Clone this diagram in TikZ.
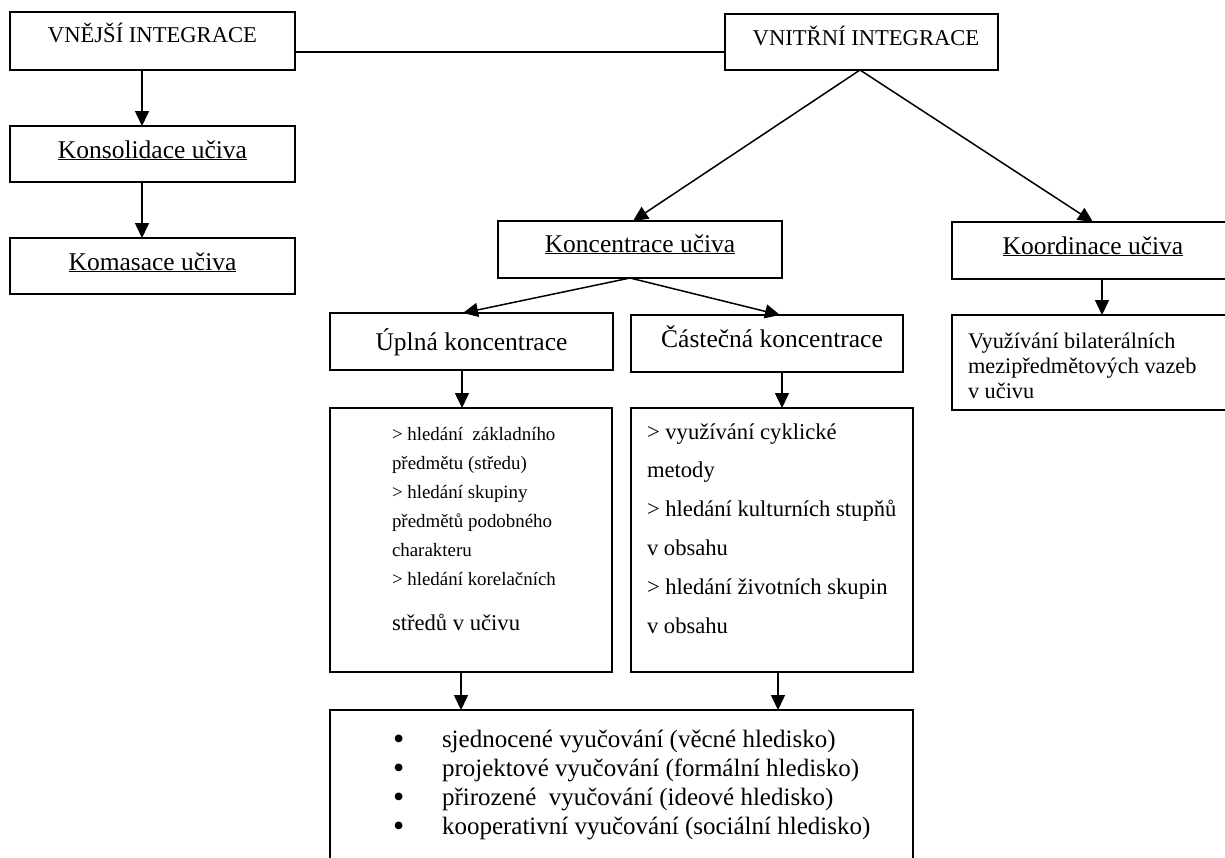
\documentclass[tikz,border=0pt]{standalone}
\usepackage{fontspec}
\setmainfont{Liberation Serif}
\usetikzlibrary{arrows.meta}
\tikzset{
  bx/.style={draw, line width=1.8pt, inner sep=0pt, outer sep=0pt},
  con/.style={line width=1.5pt},
  arr/.style={line width=1.5pt, -{Triangle[length=15pt,width=14pt]}},
  txt/.style={inner sep=0pt, outer sep=0pt},
  big/.style={font=\fontsize{25.5pt}{30pt}\selectfont},
  mid/.style={font=\fontsize{22.6pt}{27pt}\selectfont},
}
\newcommand\bulletitem{\makebox[49pt][l]{\raisebox{-2.6pt}{\fontsize{32pt}{29pt}\selectfont •}}}
\begin{document}
\begin{tikzpicture}[x=1pt,y=-1pt]
\useasboundingbox (0,0) rectangle (1225,857);
\fill[white] (0,0) rectangle (1225,857);
\clip (0,0) rectangle (1225,857);
% boxes
\node[bx, minimum width=285pt, minimum height=58pt] (vne) at (152.5,41) {};
\node[bx, minimum width=285pt, minimum height=56pt] (kons) at (152.5,154) {};
\node[bx, minimum width=285pt, minimum height=56pt] (koma) at (152.5,266) {};
\node[bx, minimum width=273pt, minimum height=56pt] (vni) at (861.5,42) {};
\node[bx, minimum width=284pt, minimum height=57pt] (konc) at (640,249.5) {};
\node[bx, minimum width=300pt, minimum height=57pt] (koor) at (1102,250.5) {};
\node[bx, minimum width=300pt, minimum height=95pt] (vyuz) at (1102,362.5) {};
\node[bx, minimum width=283pt, minimum height=57pt] (upl) at (471.5,341.5) {};
\node[bx, minimum width=272pt, minimum height=57pt] (cast) at (767,343.5) {};
\node[bx, minimum width=282pt, minimum height=264pt] (ulist) at (471,540) {};
\node[bx, minimum width=282pt, minimum height=264pt] (clist) at (772,540) {};
\node[bx, minimum width=583pt, minimum height=170pt] (bott) at (621.5,795) {};
% texts
\node[txt, mid, anchor=base] (tvne) at (152.5,42) {VNĚJŠÍ INTEGRACE};
\node[txt, big, anchor=base] (tkons) at (152.5,158) {\underline{Konsolidace učiva}};
\node[txt, big, anchor=base] (tkoma) at (152.5,270) {\underline{Komasace učiva}};
\node[txt, mid, anchor=base] (tvni) at (866,45) {VNITŘNÍ INTEGRACE};
\node[txt, big, anchor=base] (tkonc) at (640,252) {\underline{Koncentrace učiva}};
\node[txt, big, anchor=base] (tkoor) at (1093,254) {\underline{Koordinace učiva}};
\node[txt, big, anchor=base] (tupl) at (471.5,350) {Úplná koncentrace};
\node[txt, big, anchor=base] (tcast) at (772,347) {Částečná koncentrace};
% multi-line texts: anchored at the baseline of their last line
\node[txt, font=\fontsize{22.3pt}{25pt}\selectfont, anchor=base west, align=left] (tvyuz) at (968,398)
  {Využívání bilaterálních\\mezipředmětových vazeb\\v učivu};
\node[txt, font=\fontsize{18.9pt}{28.9pt}\selectfont, anchor=base west, align=left] (tulist) at (392,630)
  {> hledání~ základního\\předmětu (středu)\\> hledání skupiny\\předmětů podobného\\charakteru\\> hledání korelačních\\[16pt]{\fontsize{22.6pt}{27pt}\selectfont středů v učivu}};
\node[txt, font=\fontsize{22.6pt}{38.8pt}\selectfont, anchor=base west, align=left] (tclist) at (647,633)
  {> využívání cyklické\\metody\\> hledání kulturních stupňů\\v obsahu\\> hledání životních skupin\\v obsahu};
\node[txt, font=\fontsize{25pt}{29pt}\selectfont, anchor=base west, align=left] (tbott) at (393,834)
  {\bulletitem sjednocené vyučování (věcné hledisko)\\
   \bulletitem projektové vyučování (formální hledisko)\\
   \bulletitem přirozené~ vyučování (ideové hledisko)\\
   \bulletitem kooperativní vyučování (sociální hledisko)};
% connectors
\draw[con] ([yshift=-11pt]vne.east) -- ([yshift=-10pt]vni.west);
\draw[arr] ([xshift=-10.5pt]vne.south) -- ([xshift=-10.5pt]kons.north);
\draw[arr] ([xshift=-10.5pt]kons.south) -- ([xshift=-10.5pt]koma.north);
\draw[arr] ([xshift=-1.5pt]vni.south) -- ([xshift=-7pt]konc.north);
\draw[arr] ([xshift=-1.5pt]vni.south) -- ([xshift=-9pt]koor.north);
\draw[arr] ([xshift=-10pt]konc.south) -- ([xshift=-8.5pt]upl.north);
\draw[arr] ([xshift=-10pt]konc.south) -- ([xshift=13pt]cast.north);
\draw[arr] (koor.south) -- (vyuz.north);
\draw[arr] ([xshift=-9.5pt]upl.south) -- ([xshift=-9pt]ulist.north);
\draw[arr] ([xshift=15pt]cast.south) -- ([xshift=10pt]clist.north);
\draw[arr] ([xshift=-10pt]ulist.south) -- ([xshift=-160.5pt]bott.north);
\draw[arr] ([xshift=6pt]clist.south) -- ([xshift=156.5pt]bott.north);
\end{tikzpicture}
\end{document}
